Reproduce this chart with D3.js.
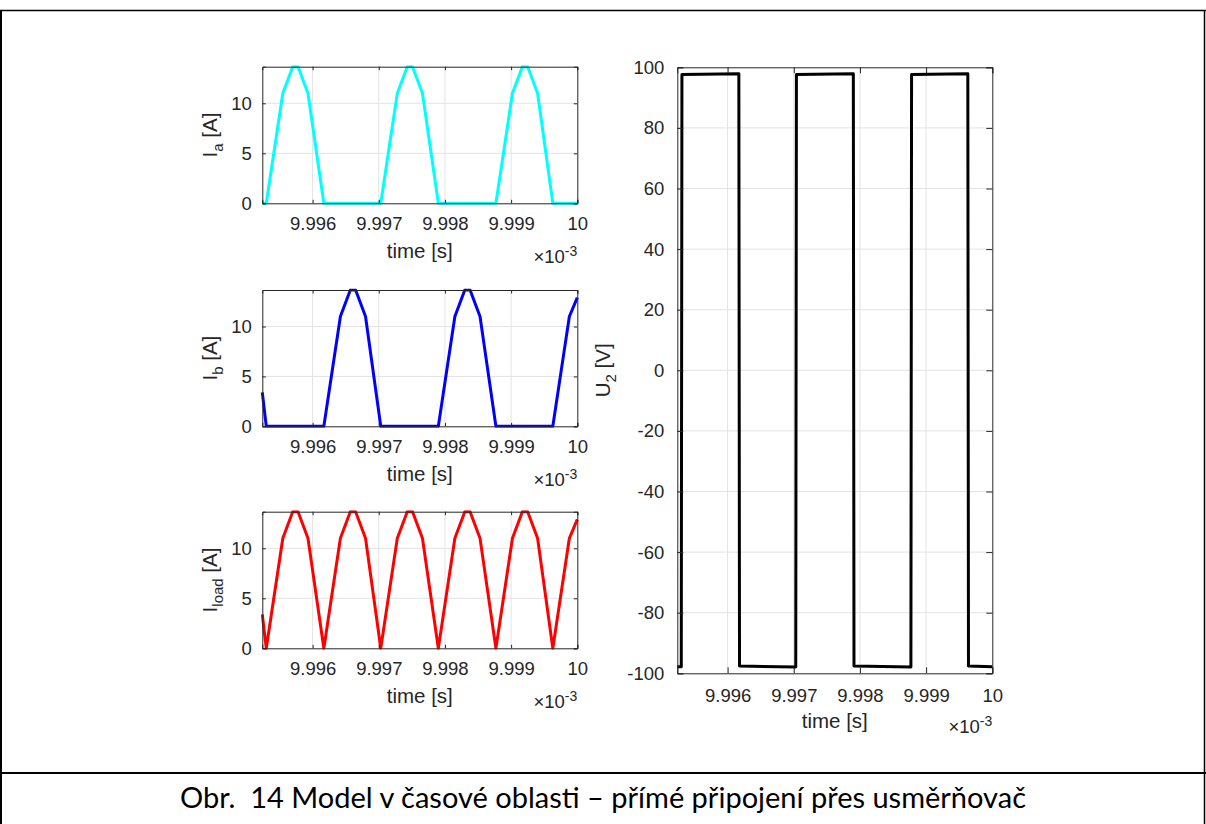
<!DOCTYPE html>
<html lang="cs">
<head>
<meta charset="UTF-8">
<title>Obr. 14 Model v časové oblasti</title>
<script src="https://d3js.org/d3.v7.min.js"></script>
<style>
  html, body { margin: 0; padding: 0; background: #fff; }
  svg { display: block; }
</style>
</head>
<body>
<svg id="fig" width="1206" height="824"></svg>
<script>
// time axis in units of 1e-3 s (axis shows "x 10^-3")
var tCur = [9.99524, 9.99530, 9.99555, 9.99570, 9.99578, 9.99593,
            9.99617, 9.99642, 9.99657, 9.99665, 9.99680,
            9.99703, 9.99728, 9.99743, 9.99751, 9.99766,
            9.99790, 9.99815, 9.99830, 9.99838, 9.99853,
            9.99877, 9.99902, 9.99917, 9.99925, 9.99940,
            9.99963, 9.99988, 10.00000];

var iA    = [0, 0, 11.0, 13.66, 13.66, 11.0,
             0, 0, 0, 0, 0,
             0, 11.0, 13.66, 13.66, 11.0,
             0, 0, 0, 0, 0,
             0, 11.0, 13.66, 13.66, 11.0,
             0, 0, 0];

var iB    = [3.4, 0, 0, 0, 0, 0,
             0, 11.0, 13.66, 13.66, 11.0,
             0, 0, 0, 0, 0,
             0, 11.0, 13.66, 13.66, 11.0,
             0, 0, 0, 0, 0,
             0, 11.0, 12.9];

var iLoad = [3.4, 0, 11.0, 13.66, 13.66, 11.0,
             0, 11.0, 13.66, 13.66, 11.0,
             0, 11.0, 13.66, 13.66, 11.0,
             0, 11.0, 13.66, 13.66, 11.0,
             0, 11.0, 13.66, 13.66, 11.0,
             0, 11.0, 12.9];

// rectifier output voltage
var tU2 = [9.99524, 9.99530, 9.99531, 9.99617, 9.99618, 9.99703, 9.99704,
           9.99790, 9.99791, 9.99877, 9.99878, 9.99963, 9.99964, 10.00000];
var u2  = [-97.8, -97.8, 97.6, 97.9, -97.6, -97.9, 97.6,
           97.9, -97.6, -97.9, 97.6, 97.9, -97.6, -97.8];

var xTicks = [9.996, 9.997, 9.998, 9.999, 10];
var currentTicks = [0, 5, 10];
var voltTicks = [-100, -80, -60, -40, -20, 0, 20, 40, 60, 80, 100];
var tRange = [9.99524, 10];

var svg = d3.select("#fig");
var axisColor = "#262626";
var gridColor = "#e3e3e3";
var axisFont = "'Liberation Sans', Arial, sans-serif";

// frame around figure + caption strip
svg.append("line").attr("x1", 0).attr("x2", 1206).attr("y1", 10.5).attr("y2", 10.5)
  .attr("stroke", "#000").attr("stroke-width", 1.5);
svg.append("line").attr("x1", 1).attr("x2", 1).attr("y1", 10).attr("y2", 824)
  .attr("stroke", "#000").attr("stroke-width", 2);
svg.append("line").attr("x1", 1204.5).attr("x2", 1204.5).attr("y1", 10).attr("y2", 824)
  .attr("stroke", "#000").attr("stroke-width", 1.5);
svg.append("line").attr("x1", 0).attr("x2", 1206).attr("y1", 773).attr("y2", 773)
  .attr("stroke", "#000").attr("stroke-width", 2);

svg.append("text")
  .attr("x", 603).attr("y", 808)
  .attr("text-anchor", "middle")
  .style("font-family", "Lato, 'Open Sans', sans-serif")
  .style("font-size", "29px")
  .style("white-space", "pre")
  .attr("fill", "#000")
  .text("Obr.  14 Model v časové oblasti – přímé připojení přes usměrňovač");

function drawPanel(box, xs, ys, yDomain, yTicks, color, label, sub, tickLen) {
  var x = d3.scaleLinear().domain(tRange).range([box.x0, box.x1]);
  var y = d3.scaleLinear().domain(yDomain).range([box.y1, box.y0]);
  var g = svg.append("g");

  // grid
  g.selectAll(".gx").data(xTicks.filter(function(d){ return d < 10; })).enter().append("line")
    .attr("x1", function(d){ return x(d); }).attr("x2", function(d){ return x(d); })
    .attr("y1", box.y0).attr("y2", box.y1)
    .attr("stroke", gridColor).attr("stroke-width", 1);
  g.selectAll(".gy").data(yTicks.filter(function(d){ return d > yDomain[0] && d < yDomain[1]; })).enter().append("line")
    .attr("x1", box.x0).attr("x2", box.x1)
    .attr("y1", function(d){ return y(d); }).attr("y2", function(d){ return y(d); })
    .attr("stroke", gridColor).attr("stroke-width", 1);

  // data line
  var pts = xs.map(function(t, i){ return [t, ys[i]]; });
  var line = d3.line().x(function(d){ return x(d[0]); }).y(function(d){ return y(d[1]); });
  var clipId = "clip" + label + sub;
  svg.append("clipPath").attr("id", clipId).append("rect")
    .attr("x", box.x0 - 2).attr("y", box.y0 - 1.5)
    .attr("width", box.x1 - box.x0 + 4).attr("height", box.y1 - box.y0 + 3);
  g.append("path").datum(pts)
    .attr("d", line)
    .attr("clip-path", "url(#" + clipId + ")")
    .attr("fill", "none")
    .attr("stroke", color)
    .attr("stroke-width", 3)
    .attr("stroke-linejoin", "round");

  // axes (ticks inward, box on)
  var fmtX = function(d){ return d === 10 ? "10" : d3.format(".3f")(d); };
  var fmtY = function(d){ return String(d); };   // plain hyphen for negatives
  var bottom = g.append("g").attr("transform", "translate(0," + box.y1 + ")")
    .call(d3.axisBottom(x).tickValues(xTicks).tickFormat(fmtX).tickSize(-tickLen).tickPadding(10 + tickLen));
  var top = g.append("g").attr("transform", "translate(0," + box.y0 + ")")
    .call(d3.axisTop(x).tickValues(xTicks).tickFormat("").tickSize(-tickLen));
  var left = g.append("g").attr("transform", "translate(" + box.x0 + ",0)")
    .call(d3.axisLeft(y).tickValues(yTicks).tickFormat(fmtY).tickSize(-tickLen).tickPadding(7 + tickLen));
  var right = g.append("g").attr("transform", "translate(" + box.x1 + ",0)")
    .call(d3.axisRight(y).tickValues(yTicks).tickFormat("").tickSize(-tickLen));
  [bottom, top, left, right].forEach(function(a){
    a.attr("font-family", null);
    a.selectAll("path").attr("stroke", axisColor).attr("stroke-width", 1);
    a.selectAll("line").attr("stroke", axisColor);
    a.selectAll("text")
      .style("font-family", axisFont)
      .style("font-size", "18.5px")
      .attr("fill", axisColor);
  });

  // x label
  svg.append("text")
    .attr("x", (box.x0 + box.x1) / 2).attr("y", box.y1 + 55)
    .attr("text-anchor", "middle")
    .style("font-family", axisFont)
    .style("font-size", "20.5px").attr("fill", axisColor)
    .text("time [s]");

  // exponent marker
  var ex = svg.append("text")
    .attr("x", box.x1).attr("y", box.y1 + 60)
    .attr("text-anchor", "end")
    .style("font-family", axisFont)
    .style("font-size", "18.5px").attr("fill", axisColor);
  ex.append("tspan").text("×10");
  ex.append("tspan").attr("dy", -7).style("font-size", "14px").text("-3");

  // y label with subscript
  var cy = (box.y0 + box.y1) / 2;
  var yl = svg.append("text")
    .attr("transform", "translate(" + box.labelX + "," + cy + ") rotate(-90)")
    .attr("text-anchor", "middle")
    .style("font-family", axisFont)
    .style("font-size", "20.5px").attr("fill", axisColor);
  yl.append("tspan").text(label);
  yl.append("tspan").attr("dy", 6).style("font-size", "15px").text(sub);
  yl.append("tspan").attr("dy", -6).text(" " + box.unit);
}

var leftX0 = 262.3, leftX1 = 577.3;
drawPanel({x0: leftX0, x1: leftX1, y0: 66.7, y1: 203.3, labelX: 217, unit: "[A]"},
  tCur, iA, [0, 13.66], currentTicks, "#00ffff", "I", "a", 3.5);
drawPanel({x0: leftX0, x1: leftX1, y0: 290, y1: 426.3, labelX: 217, unit: "[A]"},
  tCur, iB, [0, 13.66], currentTicks, "#0000ff", "I", "b", 3.5);
drawPanel({x0: leftX0, x1: leftX1, y0: 511.7, y1: 648.3, labelX: 217, unit: "[A]"},
  tCur, iLoad, [0, 13.66], currentTicks, "#ff0000", "I", "load", 3.5);
drawPanel({x0: 677.3, x1: 992.3, y0: 67.3, y1: 673.3, labelX: 610, unit: "[V]"},
  tU2, u2, [-100, 100], voltTicks, "#000000", "U", "2", 6);
</script>
</body>
</html>
